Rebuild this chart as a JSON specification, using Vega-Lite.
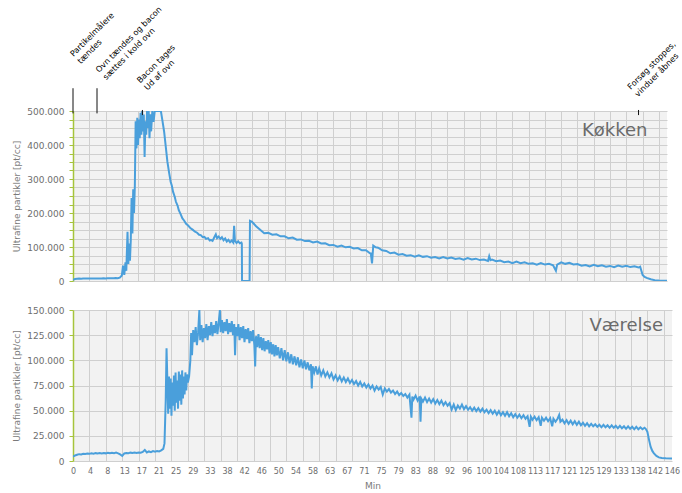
{
  "$schema": "https://vega.github.io/schema/vega-lite/v6.json",
  "padding": {"left": 12, "top": 5, "right": 5, "bottom": 5},
  "spacing": 20,
  "config": {
    "font": "DejaVu Sans",
    "view": {"stroke": null, "fill": "#f2f2f2"},
    "axis": {"gridColor": "#cfcfcf", "gridWidth": 1, "labelColor": "#6e6e6e", "titleColor": "#7a7a7a", "labelFont": "DejaVu Sans", "titleFont": "DejaVu Sans", "labelFontSize": 9, "titleFontSize": 9, "titleFontWeight": "normal", "tickCount": 200}
  },
  "datasets": {
    "notes": [
      {"t": 0, "kind": "long", "lt": 0.1, "ly": 659000, "note": "Partikelmålere\ntændes"},
      {"t": 5.9, "kind": "long", "lt": 6.4, "ly": 612000, "note": "Ovn tændes og bacon\nsættes i kold ovn"},
      {"t": 17.06, "kind": "short", "lt": 16.5, "ly": 581000, "note": "Bacon tages\nUd af ovn"},
      {"t": 139.0, "kind": "short", "lt": 137.1, "ly": 562000, "note": "Forsøg stoppes,\nvinduer åbnes"}
    ],
    "kok": [
      {"t":0,"y":3000},{"t":0.5,"y":6000},{"t":1,"y":6500},{"t":1.5,"y":7000},{"t":2,"y":6800},{"t":2.5,"y":7200},{"t":3,"y":7000},{"t":3.5,"y":7400},{"t":4,"y":7200},{"t":4.5,"y":7500},{"t":5,"y":7300},{"t":5.5,"y":7600},{"t":6,"y":7400},{"t":6.5,"y":7700},{"t":7,"y":7500},{"t":7.5,"y":7800},{"t":8,"y":7600},{"t":8.5,"y":8000},{"t":9,"y":7800},{"t":9.5,"y":8200},{"t":10,"y":8000},{"t":10.5,"y":8500},{"t":11,"y":8300},{"t":11.5,"y":10000},
      {"t":12,"y":16000},{"t":12.3,"y":45000},{"t":12.6,"y":18000},{"t":12.9,"y":55000},{"t":13.1,"y":30000},{"t":13.4,"y":145000},{"t":13.6,"y":50000},{"t":13.8,"y":110000},{"t":14,"y":60000},{"t":14.2,"y":120000},{"t":14.4,"y":244000},{"t":14.6,"y":140000},{"t":14.8,"y":270000},{"t":15,"y":200000},{"t":15.2,"y":280000},{"t":15.4,"y":470000},{"t":15.6,"y":390000},{"t":15.8,"y":480000},{"t":16,"y":400000},{"t":16.2,"y":475000},{"t":16.4,"y":420000},{"t":16.6,"y":495000},{"t":16.8,"y":430000},{"t":17,"y":500000},{"t":17.2,"y":440000},{"t":17.4,"y":490000},{"t":17.6,"y":365000},{"t":17.8,"y":470000},{"t":18,"y":430000},{"t":18.2,"y":500000},{"t":18.4,"y":450000},{"t":18.6,"y":500000},{"t":18.8,"y":420000},{"t":19,"y":490000},{"t":19.2,"y":440000},{"t":19.5,"y":500000},{"t":19.8,"y":468000},{"t":20.1,"y":500000},{"t":21,"y":500000},{"t":21.6,"y":500000},
      {"t":22,"y":470000},{"t":22.4,"y":439000},{"t":22.8,"y":395000},{"t":23.2,"y":351000},{"t":23.6,"y":320000},{"t":24,"y":292000},{"t":24.3,"y":280000},{"t":24.6,"y":262000},{"t":25,"y":248000},{"t":25.3,"y":233000},{"t":25.7,"y":222000},{"t":26,"y":208000},{"t":26.4,"y":198000},{"t":26.9,"y":184000},{"t":27.3,"y":178000},{"t":27.8,"y":168000},{"t":28.3,"y":163000},{"t":28.9,"y":155000},{"t":29.4,"y":151000},{"t":30,"y":145000},{"t":30.5,"y":142000},{"t":31,"y":136000},{"t":31.4,"y":135000},{"t":31.9,"y":129000},{"t":32.3,"y":130000},{"t":32.7,"y":124000},{"t":33.2,"y":126000},{"t":33.6,"y":119000},{"t":33.9,"y":121000},{"t":34.3,"y":118000},{"t":34.7,"y":128000},{"t":35.1,"y":137000},{"t":35.4,"y":126000},{"t":35.8,"y":131000},{"t":36.2,"y":124000},{"t":36.6,"y":129000},{"t":37,"y":120000},{"t":37.4,"y":125000},{"t":37.8,"y":116000},{"t":38.2,"y":121000},{"t":38.6,"y":114000},{"t":39,"y":119000},{"t":39.4,"y":113000},{"t":39.6,"y":162000},{"t":39.8,"y":118000},{"t":40.2,"y":112000},{"t":40.6,"y":117000},{"t":41,"y":111000},{"t":41.4,"y":113000},{"t":41.5,"y":110000},{"t":41.55,"y":0},{"t":43.4,"y":0},{"t":43.5,"y":177000},
      {"t":44,"y":174000},{"t":45,"y":161300},{"t":46,"y":151000},{"t":47,"y":140500},{"t":48,"y":141500},{"t":49,"y":136200},{"t":50,"y":137400},{"t":51,"y":131500},{"t":52,"y":131500},{"t":53,"y":125500},{"t":54,"y":127700},{"t":55,"y":121400},{"t":56,"y":122300},{"t":57,"y":117400},{"t":58,"y":118400},{"t":59,"y":113500},{"t":60,"y":116200},{"t":61,"y":110300},{"t":62,"y":111000},{"t":63,"y":105200},{"t":64,"y":106000},{"t":65,"y":100700},{"t":66,"y":104100},{"t":67,"y":99000},{"t":68,"y":100700},{"t":69,"y":95800},{"t":70,"y":97000},{"t":71,"y":90200},{"t":72,"y":90600},{"t":73,"y":81200},{"t":73.2,"y":81000},{"t":73.5,"y":52000},{"t":73.8,"y":104000},{"t":74.4,"y":99000},{"t":75,"y":98000},{"t":76,"y":90200},{"t":77,"y":88300},{"t":78,"y":81500},{"t":79,"y":83500},{"t":80,"y":77600},{"t":81,"y":79300},{"t":82,"y":74500},{"t":83,"y":76000},{"t":84,"y":71500},{"t":85,"y":75500},{"t":86,"y":71000},{"t":87,"y":73000},{"t":88,"y":68500},{"t":89,"y":70400},{"t":90,"y":66300},{"t":91,"y":70700},{"t":92,"y":66500},{"t":93,"y":69000},{"t":94,"y":65000},{"t":95,"y":66900},{"t":96,"y":62900},{"t":97,"y":67400},{"t":98,"y":63300},{"t":99,"y":65700},{"t":100,"y":61500},{"t":101,"y":63300},{"t":102,"y":59000},{"t":102.3,"y":73000},{"t":102.6,"y":61000},{"t":103,"y":62700},{"t":104,"y":58000},{"t":105,"y":60000},{"t":106,"y":55500},{"t":107,"y":57000},{"t":108,"y":52700},{"t":109,"y":56900},{"t":110,"y":52600},{"t":111,"y":54800},{"t":112,"y":50500},{"t":113,"y":52300},{"t":114,"y":48200},{"t":115,"y":52500},{"t":116,"y":48300},{"t":117,"y":50700},{"t":118,"y":46500},{"t":118.7,"y":30000},{"t":119,"y":48300},{"t":120,"y":55000},{"t":121,"y":50500},{"t":122,"y":53500},{"t":123,"y":48500},{"t":124,"y":50000},{"t":125,"y":45000},{"t":126,"y":46800},{"t":127,"y":42600},{"t":128,"y":47300},{"t":129,"y":43500},{"t":130,"y":46100},{"t":131,"y":42300},{"t":132,"y":44400},{"t":133,"y":40500},{"t":134,"y":45300},{"t":135,"y":41700},{"t":136,"y":44500},{"t":137,"y":40900},{"t":138,"y":43200},{"t":139,"y":39600},{"t":139.4,"y":42000},{"t":139.7,"y":30000},{"t":140,"y":18000},{"t":140.5,"y":12000},{"t":141,"y":9000},{"t":142,"y":5000},{"t":143,"y":2500},{"t":144,"y":1500},{"t":146,"y":1000}
    ],
    "vaer": [
      {"t":0,"y":4300},{"t":0.5,"y":5500},{"t":1,"y":6200},{"t":1.5,"y":6800},{"t":2,"y":6500},{"t":2.5,"y":7200},{"t":3,"y":6900},{"t":3.5,"y":7400},{"t":4,"y":7100},{"t":4.5,"y":7600},{"t":5,"y":7300},{"t":5.5,"y":7800},{"t":6,"y":7400},{"t":6.5,"y":7900},{"t":7,"y":7500},{"t":7.5,"y":8000},{"t":8,"y":7600},{"t":8.5,"y":8200},{"t":9,"y":7700},{"t":9.5,"y":8100},{"t":10,"y":7800},{"t":10.5,"y":8300},{"t":11,"y":7600},{"t":11.5,"y":6500},{"t":12,"y":5000},{"t":12.5,"y":7500},{"t":13,"y":8000},{"t":13.5,"y":7800},{"t":14,"y":8300},{"t":14.5,"y":7900},{"t":15,"y":8400},{"t":15.5,"y":8000},{"t":16,"y":8500},{"t":16.5,"y":8200},{"t":17,"y":9000},{"t":17.5,"y":11000},{"t":18,"y":8500},{"t":18.5,"y":9500},{"t":19,"y":8800},{"t":19.5,"y":9800},{"t":20,"y":9200},{"t":20.5,"y":10000},{"t":21,"y":9500},{"t":21.5,"y":10500},{"t":22,"y":12000},{"t":22.3,"y":17500},
      {"t":22.6,"y":60000},{"t":22.8,"y":112000},{"t":23,"y":80000},{"t":23.2,"y":47000},{"t":23.4,"y":84000},{"t":23.6,"y":52000},{"t":23.8,"y":82000},{"t":24,"y":45000},{"t":24.2,"y":78000},{"t":24.4,"y":55000},{"t":24.6,"y":85000},{"t":24.8,"y":50000},{"t":25,"y":88000},{"t":25.2,"y":58000},{"t":25.4,"y":80000},{"t":25.6,"y":52000},{"t":25.8,"y":89000},{"t":26,"y":60000},{"t":26.2,"y":86000},{"t":26.4,"y":56000},{"t":26.6,"y":90000},{"t":26.8,"y":62000},{"t":27,"y":84000},{"t":27.2,"y":66000},{"t":27.4,"y":88000},{"t":27.6,"y":70000},{"t":27.8,"y":86000},{"t":28,"y":78000},{"t":28.3,"y":84000},{"t":28.6,"y":100000},{"t":28.8,"y":127000},{"t":29,"y":105000},{"t":29.3,"y":130000},{"t":29.6,"y":118000},{"t":29.9,"y":133000},{"t":30.2,"y":115000},{"t":30.5,"y":128000},{"t":30.8,"y":150000},{"t":31,"y":120000},{"t":31.3,"y":135000},{"t":31.6,"y":118000},{"t":31.9,"y":132000},{"t":32.2,"y":122000},{"t":32.5,"y":136000},{"t":32.8,"y":120000},{"t":33.1,"y":134000},{"t":33.4,"y":125000},{"t":33.7,"y":138000},{"t":34,"y":124000},{"t":34.3,"y":135000},{"t":34.6,"y":127000},{"t":34.9,"y":139000},{"t":35.2,"y":126000},{"t":35.5,"y":137000},{"t":35.8,"y":150000},{"t":36,"y":128000},{"t":36.3,"y":140000},{"t":36.6,"y":127000},{"t":36.9,"y":138000},{"t":37.2,"y":129000},{"t":37.5,"y":141000},{"t":37.8,"y":126000},{"t":38.1,"y":137000},{"t":38.4,"y":128000},{"t":38.7,"y":139000},{"t":39,"y":125000},{"t":39.3,"y":136000},{"t":39.5,"y":105000},{"t":39.7,"y":133000},{"t":40,"y":124000},{"t":40.3,"y":136000},{"t":40.6,"y":120000},{"t":40.9,"y":133000},{"t":41.2,"y":122000},{"t":41.5,"y":134000},{"t":41.8,"y":118000},{"t":42.1,"y":131000},{"t":42.4,"y":121000},{"t":42.7,"y":132000},{"t":43,"y":117000},{"t":43.3,"y":129000},{"t":43.6,"y":119000},{"t":43.9,"y":130000},{"t":44.2,"y":115000},{"t":44.4,"y":94000},{"t":44.6,"y":124000},{"t":44.9,"y":113000},{"t":45.2,"y":126000},{"t":45.5,"y":112000},{"t":45.8,"y":123000},{"t":46.1,"y":110000},{"t":46.4,"y":122000},{"t":46.7,"y":109000},{"t":47,"y":119000},{"t":47.3,"y":111000},{"t":47.6,"y":120000},{"t":47.9,"y":107000},{"t":48.2,"y":118000},{"t":48.5,"y":106000},{"t":48.8,"y":116000},{"t":49.1,"y":104000},{"t":49.4,"y":115000},{"t":49.7,"y":105000},{"t":50,"y":113000},{"t":50.4,"y":102000},{"t":50.8,"y":112000},{"t":51.2,"y":100000},{"t":51.6,"y":110000},{"t":52,"y":99000},{"t":52.4,"y":108000},{"t":52.8,"y":97000},{"t":53.2,"y":106000},{"t":53.6,"y":96000},{"t":54,"y":104000},{"t":54.4,"y":95000},{"t":54.8,"y":103000},{"t":55.2,"y":93000},{"t":55.6,"y":101000},{"t":56,"y":92000},{"t":56.4,"y":100000},{"t":56.8,"y":91000},{"t":57.2,"y":98000},{"t":57.6,"y":90000},{"t":58,"y":96000},{"t":58.2,"y":72000},{"t":58.4,"y":94000},{"t":58.8,"y":88000},{"t":59.2,"y":94000},{"t":59.6,"y":86000},{"t":60,"y":92000},
      {"t":60.5,"y":85000},{"t":61,"y":90000},{"t":61.5,"y":84000},{"t":62,"y":88000},{"t":62.5,"y":83000},{"t":63,"y":87000},{"t":63.5,"y":81000},{"t":64,"y":85000},{"t":64.5,"y":80000},{"t":65,"y":84000},{"t":65.5,"y":79000},{"t":66,"y":83000},{"t":66.5,"y":78500},{"t":67,"y":82000},{"t":67.5,"y":77500},{"t":68,"y":80500},{"t":68.5,"y":76500},{"t":69,"y":79500},{"t":69.5,"y":75000},{"t":70,"y":78500},{"t":70.5,"y":74000},{"t":71,"y":77000},{"t":71.5,"y":73000},{"t":72,"y":76000},{"t":72.5,"y":72000},{"t":73,"y":75000},{"t":73.5,"y":70000},{"t":74,"y":74000},{"t":74.5,"y":71000},{"t":75,"y":73500},{"t":75.5,"y":66000},{"t":76,"y":72000},{"t":76.5,"y":69000},{"t":77,"y":71500},{"t":77.5,"y":68000},{"t":78,"y":70000},{"t":78.5,"y":66500},{"t":79,"y":69000},{"t":79.5,"y":65500},{"t":80,"y":67500},{"t":80.5,"y":64500},{"t":81,"y":66500},{"t":81.5,"y":63000},{"t":82,"y":66000},{"t":82.5,"y":43000},{"t":82.7,"y":64000},{"t":83,"y":61000},{"t":83.5,"y":65000},{"t":84,"y":60000},{"t":84.5,"y":64000},{"t":84.7,"y":39000},{"t":84.9,"y":62000},{"t":85.3,"y":59000},{"t":85.8,"y":63000},{"t":86.3,"y":58500},{"t":86.8,"y":62000},{"t":87.3,"y":58000},{"t":87.8,"y":61500},{"t":88.3,"y":57000},{"t":88.8,"y":60500},{"t":89.3,"y":56500},{"t":89.8,"y":60000},{"t":90.3,"y":55500},{"t":90.8,"y":58500},{"t":91.3,"y":55000},{"t":91.8,"y":57500},{"t":92.3,"y":51000},{"t":92.8,"y":56000},{"t":93.3,"y":50500},{"t":93.8,"y":55000},{"t":94.3,"y":52000},{"t":94.8,"y":56000},{"t":95.3,"y":51500},{"t":95.8,"y":54500},{"t":96.3,"y":51000},{"t":96.8,"y":53500},{"t":97.3,"y":50000},{"t":97.8,"y":53000},{"t":98.3,"y":49500},{"t":98.8,"y":52500},{"t":99.3,"y":49000},{"t":99.8,"y":52000},{"t":100.3,"y":48500},{"t":100.8,"y":51000},{"t":101.3,"y":47500},{"t":101.8,"y":50500},{"t":102.3,"y":47000},{"t":102.8,"y":50000},{"t":103.3,"y":46000},{"t":103.8,"y":49500},{"t":104.3,"y":45500},{"t":104.8,"y":48500},{"t":105.3,"y":45000},{"t":105.8,"y":48500},{"t":106.3,"y":44500},{"t":106.8,"y":47500},{"t":107.3,"y":43500},{"t":107.8,"y":46500},{"t":108.3,"y":43000},{"t":108.8,"y":46000},{"t":109.3,"y":42500},{"t":109.8,"y":45500},{"t":110.3,"y":42000},{"t":110.8,"y":44500},{"t":111.3,"y":34000},{"t":111.6,"y":44000},{"t":112,"y":41000},{"t":112.5,"y":44000},{"t":113,"y":40500},{"t":113.5,"y":43500},{"t":114,"y":35000},{"t":114.3,"y":43000},{"t":114.8,"y":40000},{"t":115.3,"y":43000},{"t":115.8,"y":39500},{"t":116.3,"y":42500},{"t":116.8,"y":34500},{"t":117.1,"y":42000},{"t":117.6,"y":39000},{"t":118.1,"y":42000},{"t":118.5,"y":45700},{"t":118.8,"y":39000},{"t":119.3,"y":41000},{"t":119.8,"y":37500},{"t":120.3,"y":40500},{"t":120.8,"y":37000},{"t":121.3,"y":40000},{"t":121.8,"y":36500},{"t":122.3,"y":39500},{"t":122.8,"y":36000},{"t":123.3,"y":39000},{"t":123.8,"y":35500},{"t":124.3,"y":38000},{"t":124.8,"y":35000},{"t":125.3,"y":37500},{"t":125.8,"y":34500},{"t":126.3,"y":37000},{"t":126.8,"y":34500},{"t":127.3,"y":36500},{"t":127.8,"y":34000},{"t":128.3,"y":36000},{"t":128.8,"y":33500},{"t":129.3,"y":36000},{"t":129.8,"y":33500},{"t":130.3,"y":35500},{"t":130.8,"y":33000},{"t":131.3,"y":35500},{"t":131.8,"y":33000},{"t":132.3,"y":35000},{"t":132.8,"y":32500},{"t":133.3,"y":35000},{"t":133.8,"y":32500},{"t":134.3,"y":34500},{"t":134.8,"y":32000},{"t":135.3,"y":34500},{"t":135.8,"y":32000},{"t":136.3,"y":34000},{"t":136.8,"y":31500},{"t":137.3,"y":34000},{"t":137.8,"y":31500},{"t":138.3,"y":33500},{"t":138.8,"y":31500},{"t":139.3,"y":33000},{"t":139.6,"y":32000},{"t":140,"y":29000},{"t":140.4,"y":21000},{"t":140.8,"y":14000},{"t":141.2,"y":10000},{"t":141.6,"y":7600},{"t":142.2,"y":5000},{"t":142.8,"y":3600},{"t":143.5,"y":3000},{"t":144.5,"y":2700},{"t":146,"y":2600}
    ]
  },
  "vconcat": [
    {
      "width": 594,
      "height": 170,
      "layer": [
        {
          "data": {"name": "kok"},
          "mark": {"type": "line", "color": "#4a9fdb", "strokeWidth": 2, "clip": true},
          "encoding": {
            "x": {"field": "t", "type": "quantitative", "scale": {"domain": [0, 146], "nice": false, "zero": false},
              "axis": {"values": [0,4,8,12,16,20,24,28,32,36,40,44,48,52,56,60,64,68,72,76,80,84,88,92,96,100,104,108,112,116,120,124,128,132,136,140,144], "tickCount": 200, "labels": false, "ticks": false, "domain": false, "title": null, "grid": true}},
            "y": {"field": "y", "type": "quantitative", "scale": {"domain": [0, 500000], "nice": false},
              "axis": {"values": [0,25000,50000,75000,100000,125000,150000,175000,200000,225000,250000,275000,300000,325000,350000,375000,400000,425000,450000,475000,500000], "tickCount": 200,
                "labelExpr": "datum.value % 100000 == 0 ? replace(format(datum.value, ','), ',', '.') : ''",
                "labelOverlap": false, "domainColor": "#a6c43c", "domainWidth": 1.5, "tickColor": "#a6c43c", "tickSize": 4, "labelPadding": 5,
                "title": "Ultrafine partikler [pt/cc]", "titlePadding": 5}}
          }
        },
        {
          "data": {"name": "notes"},
          "transform": [{"filter": "datum.kind == 'long'"}],
          "mark": {"type": "rule", "color": "#111111", "strokeWidth": 1},
          "encoding": {
            "x": {"field": "t", "type": "quantitative"},
            "y": {"datum": 567000, "type": "quantitative"},
            "y2": {"datum": 493000}
          }
        },
        {
          "data": {"name": "notes"},
          "transform": [{"filter": "datum.kind == 'short'"}],
          "mark": {"type": "rule", "color": "#111111", "strokeWidth": 1},
          "encoding": {
            "x": {"field": "t", "type": "quantitative"},
            "y": {"datum": 503000, "type": "quantitative"},
            "y2": {"datum": 488000}
          }
        },
        {
          "data": {"name": "notes"},
          "mark": {"type": "text", "angle": -45, "align": "left", "baseline": "alphabetic", "fontSize": 8.1, "lineHeight": 10.3, "lineBreak": "\n", "color": "#000000"},
          "encoding": {
            "x": {"field": "lt", "type": "quantitative"},
            "y": {"field": "ly", "type": "quantitative"},
            "text": {"field": "note"}
          }
        },
        {
          "data": {"values": [{}]},
          "mark": {"type": "text", "align": "right", "baseline": "alphabetic", "fontSize": 18, "color": "#6b6b6b"},
          "encoding": {
            "x": {"datum": 141.2, "type": "quantitative"},
            "y": {"datum": 427000, "type": "quantitative"},
            "text": {"value": "Køkken"}
          }
        }
      ]
    },
    {
      "width": 599,
      "height": 151,
      "resolve": {"axis": {"x": "independent"}},
      "layer": [
        {
          "data": {"name": "vaer"},
          "mark": {"type": "line", "color": "#4a9fdb", "strokeWidth": 2, "clip": true},
          "encoding": {
            "x": {"field": "t", "type": "quantitative", "scale": {"domain": [0, 146], "nice": false, "zero": false},
              "axis": {"orient": "bottom", "values": [0,4,8,12,16,20,24,28,32,36,40,44,48,52,56,60,64,68,72,76,80,84,88,92,96,100,104,108,112,116,120,124,128,132,136,140,144], "tickCount": 200, "labels": false, "ticks": false, "domain": false, "title": null, "grid": true}},
            "y": {"field": "y", "type": "quantitative", "scale": {"domain": [0, 150000], "nice": false},
              "axis": {"values": [0,25000,50000,75000,100000,125000,150000], "tickCount": 200,
                "labelExpr": "replace(format(datum.value, ','), ',', '.')",
                "labelOverlap": false, "domainColor": "#a6c43c", "domainWidth": 1.5, "tickColor": "#a6c43c", "tickSize": 4, "labelPadding": 5,
                "title": "Ultrafine partikler [pt/cc]", "titlePadding": 5}}
          }
        },
        {
          "data": {"values": [{}]},
          "mark": {"type": "text", "align": "right", "baseline": "alphabetic", "fontSize": 18, "color": "#6b6b6b"},
          "encoding": {
            "x": {"datum": 143.8, "type": "quantitative",
              "axis": {"orient": "bottom", "values": [0,4.1714,8.3429,12.5143,16.6857,20.8571,25.0286,29.2,33.3714,37.5429,41.7143,45.8857,50.0571,54.2286,58.4,62.5714,66.7429,70.9143,75.0857,79.2571,83.4286,87.6,91.7714,95.9429,100.1143,104.2857,108.4571,112.6286,116.8,120.9714,125.1429,129.3143,133.4857,137.6571,141.8286,146], "tickCount": 200,
                "labelExpr": "format(datum.value, '.0f')", "labelFontSize": 8, "grid": false, "ticks": false, "domain": false, "labelFlush": false, "labelOverlap": false, "labelPadding": 6, "title": "Min", "titlePadding": 6}},
            "y": {"datum": 129000, "type": "quantitative"},
            "text": {"value": "Værelse"}
          }
        }
      ]
    }
  ]
}
